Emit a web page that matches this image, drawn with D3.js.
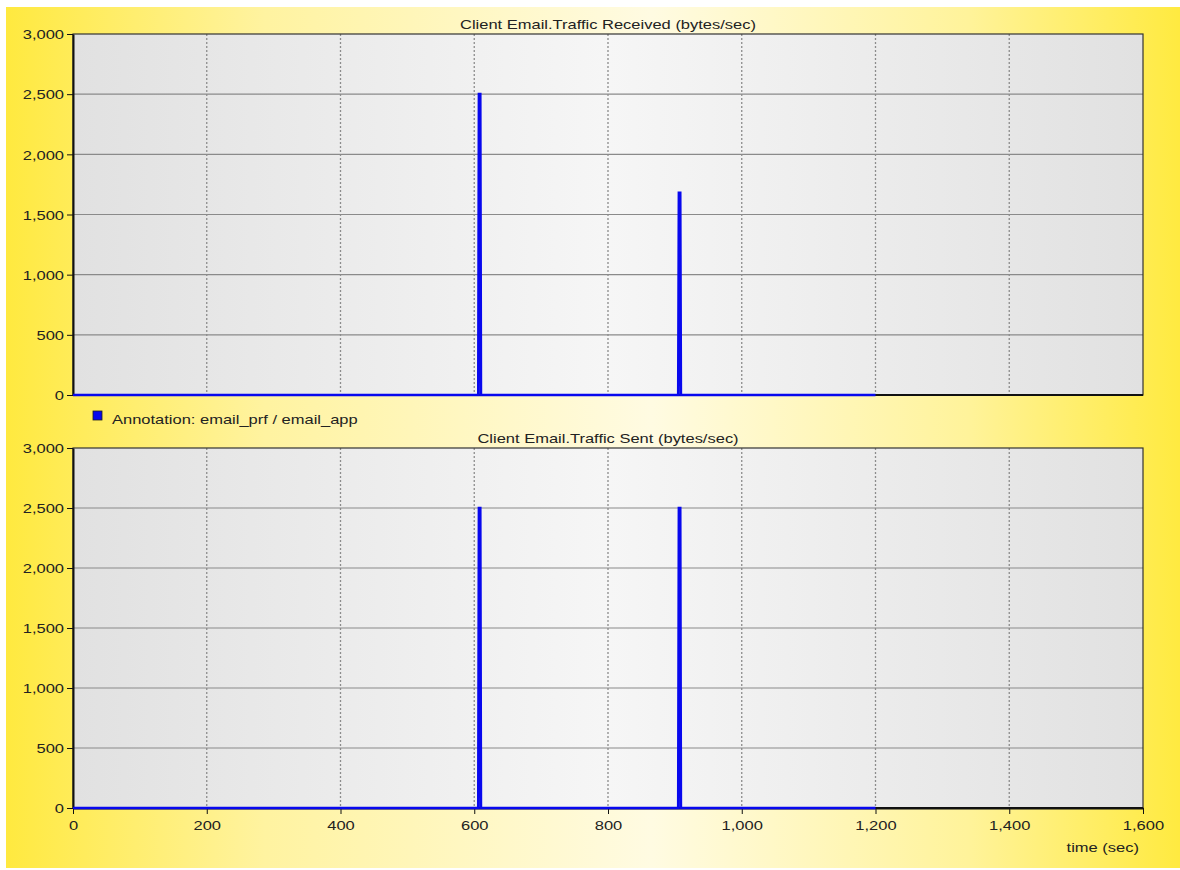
<!DOCTYPE html>
<html>
<head>
<meta charset="utf-8">
<script src="https://cdn.jsdelivr.net/npm/d3@7"></script>
<style>
  html, body { margin: 0; padding: 0; background: #fff; }
  svg { display: block; }
  text { font-family: "Liberation Sans", Arial, sans-serif; fill: #222; }
</style>
</head>
<body>
<svg id="chart" width="1180" height="870"></svg>
<script>
// Simulation output: email traffic at the client (time in seconds, bytes/sec)
const receivedTime  = [0, 606, 607, 609, 610, 905, 906, 908, 909, 1200];
const receivedBytes = [0, 0, 2500, 2500, 0, 0, 1680, 1680, 0, 0];
const sentTime      = [0, 606, 607, 609, 610, 905, 906, 908, 909, 1200];
const sentBytes     = [0, 0, 2500, 2500, 0, 0, 2500, 2500, 0, 0];

const xTicks = [0, 200, 400, 600, 800, 1000, 1200, 1400, 1600];
const yTicks = [0, 500, 1000, 1500, 2000, 2500, 3000];

const panelTitles = ["Client Email.Traffic Received (bytes/sec)", "Client Email.Traffic Sent (bytes/sec)"];
const legendLabel = "Annotation: email_prf / email_app";
const xAxisLabel = "time (sec)";

// the chart's lettering is a wide sans; widen the installed sans to suit
const WIDE = 1.27;
const FONT = 13;

const svg = d3.select("#chart");
const defs = svg.append("defs");

// Yellow backdrop: saturated at both sides, pale in the middle
const bg = defs.append("linearGradient").attr("id", "bgGrad").attr("x1", "0").attr("x2", "1").attr("y1", "0").attr("y2", "0");
bg.append("stop").attr("offset", "0").attr("stop-color", "#ffe93f");
bg.append("stop").attr("offset", "0.22").attr("stop-color", "#fff3a0");
bg.append("stop").attr("offset", "0.55").attr("stop-color", "#fffbe2");
bg.append("stop").attr("offset", "0.82").attr("stop-color", "#fff39a");
bg.append("stop").attr("offset", "1").attr("stop-color", "#ffea40");

// Plot area: gray edges, lighter centre
const pg = defs.append("linearGradient").attr("id", "plotGrad").attr("x1", "0").attr("x2", "1").attr("y1", "0").attr("y2", "0");
pg.append("stop").attr("offset", "0").attr("stop-color", "#e1e1e1");
pg.append("stop").attr("offset", "0.5").attr("stop-color", "#f6f6f6");
pg.append("stop").attr("offset", "1").attr("stop-color", "#e1e1e1");

svg.append("rect").attr("x", 6).attr("y", 7).attr("width", 1174).attr("height", 861).attr("fill", "url(#bgGrad)");

function label(x, y, str, anchor) {
  return svg.append("text")
    .attr("transform", `translate(${x},${y}) scale(${WIDE},1)`)
    .attr("text-anchor", anchor || "start")
    .attr("font-size", FONT).text(str);
}

const left = 73, right = 1143;
const x = d3.scaleLinear().domain([0, 1600]).range([left, right]);

const panels = [
  { top: 34, bottom: 395, t: receivedTime, v: receivedBytes, title: panelTitles[0], showX: false },
  { top: 448, bottom: 808, t: sentTime, v: sentBytes, title: panelTitles[1], showX: true }
];

panels.forEach(p => {
  const y = d3.scaleLinear().domain([0, 3000]).range([p.bottom, p.top]);
  const g = svg.append("g");

  g.append("rect").attr("x", left).attr("y", p.top)
    .attr("width", right - left).attr("height", p.bottom - p.top)
    .attr("fill", "url(#plotGrad)");

  // horizontal grid
  g.selectAll(".hgrid").data(yTicks.filter(d => d > 0 && d < 3000)).join("line")
    .attr("x1", left).attr("x2", right)
    .attr("y1", d => y(d)).attr("y2", d => y(d))
    .attr("stroke", "#8a8a8a").attr("stroke-width", 1.2);

  // vertical dotted grid
  g.selectAll(".vgrid").data(xTicks.filter(d => d > 0 && d < 1600)).join("line")
    .attr("x1", d => x(d)).attr("x2", d => x(d))
    .attr("y1", p.top).attr("y2", p.bottom)
    .attr("stroke", "#8c8c8c").attr("stroke-width", 1.3).attr("stroke-dasharray", "2,2");

  // frame
  g.append("rect").attr("x", left).attr("y", p.top)
    .attr("width", right - left).attr("height", p.bottom - p.top)
    .attr("fill", "none").attr("stroke", "#333").attr("stroke-width", 1.2);

  // y axis
  const yAxis = d3.axisLeft(y).tickValues(yTicks).tickSize(6).tickSizeOuter(0)
    .tickFormat(d3.format(","));
  const ya = g.append("g").attr("transform", `translate(${left},0)`).call(yAxis);
  ya.select(".domain").attr("stroke", "#111").attr("stroke-width", 2);
  ya.selectAll(".tick line").attr("stroke", "#111");
  ya.selectAll(".tick text").attr("font-size", FONT).attr("x", -9 / WIDE).attr("dy", "0.36em")
    .attr("transform", `scale(${WIDE},1)`)
    .style("font-family", "'Liberation Sans', Arial, sans-serif").attr("fill", "#222");

  // bottom line of the panel
  g.append("line").attr("x1", left).attr("x2", right)
    .attr("y1", p.bottom).attr("y2", p.bottom)
    .attr("stroke", "#111").attr("stroke-width", 2);

  if (p.showX) {
    const xAxis = d3.axisBottom(x).tickValues(xTicks).tickSize(6).tickSizeOuter(0)
      .tickFormat(d3.format(","));
    const xa = g.append("g").attr("transform", `translate(0,${p.bottom})`).call(xAxis);
    xa.select(".domain").attr("stroke", "#111").attr("stroke-width", 2);
    xa.selectAll(".tick line").attr("stroke", "#111");
    xa.selectAll(".tick text").attr("font-size", FONT).attr("y", 13)
      .attr("transform", `scale(${WIDE},1)`)
      .style("font-family", "'Liberation Sans', Arial, sans-serif").attr("fill", "#222");
  }

  // series
  const pts = p.t.map((t, i) => [t, p.v[i]]);
  const line = d3.line().x(d => x(d[0])).y(d => y(d[1]));
  g.append("path").datum(pts).attr("d", line)
    .attr("fill", "none").attr("stroke", "#0808ee").attr("stroke-width", 2.6)
    .attr("stroke-linejoin", "miter");

  // title
  label((left + right) / 2, p.top - 5, p.title, "middle");
});

// legend between the two panels
svg.append("rect").attr("x", 93).attr("y", 411).attr("width", 9).attr("height", 9)
  .attr("fill", "#0808ee").attr("stroke", "#222").attr("stroke-width", 0.8);
label(112, 424, legendLabel);

// x axis label
label(1139, 852, xAxisLabel, "end");
</script>
</body>
</html>
